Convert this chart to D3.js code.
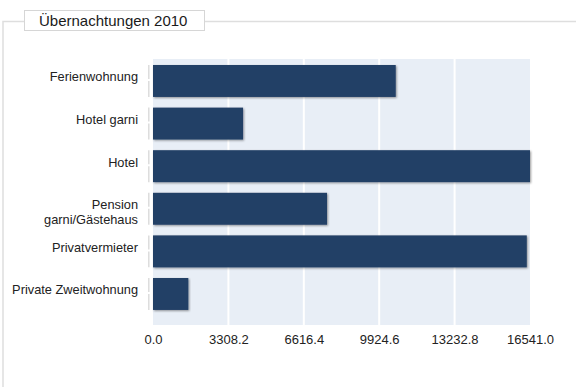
<!DOCTYPE html>
<html>
<head>
<meta charset="utf-8">
<script src="https://cdn.jsdelivr.net/npm/d3@7"></script>
<style>
  html, body { margin: 0; padding: 0; background: #fff; }
  svg { display: block; font-family: "Liberation Sans", Arial, sans-serif; }
</style>
</head>
<body>
<svg id="chart" width="576" height="387"></svg>
<script>
// Overnight stays 2010 by accommodation type
const title = "Übernachtungen 2010";
const categories = [
  ["Ferienwohnung"],
  ["Hotel garni"],
  ["Hotel"],
  ["Pension", "garni/Gästehaus"],
  ["Privatvermieter"],
  ["Private Zweitwohnung"]
];
const values = [10650, 3950, 16541, 7635, 16400, 1550];
const tickValues = [0, 3308.2, 6616.4, 9924.6, 13232.8, 16541.0];

const svg = d3.select("#chart");

// Plot geometry
const plot = { left: 153, right: 530, top: 59, bottom: 325 };

const x = d3.scaleLinear().domain([0, 16541]).range([plot.left, plot.right]);
const y = d3.scaleBand()
  .domain(categories.map((c, i) => i))
  .range([plot.top + 6, plot.top + 6 + 42.6 * 5.75])
  .paddingInner(0.25)
  .paddingOuter(0);

// Shadow for the bars
const defs = svg.append("defs");
const f = defs.append("filter").attr("id", "shadow")
  .attr("x", "-5%").attr("y", "-20%").attr("width", "110%").attr("height", "150%");
f.append("feDropShadow").attr("dx", 1).attr("dy", 1).attr("stdDeviation", 1)
  .attr("flood-color", "#000").attr("flood-opacity", 0.4);

// Frame with legend tab
svg.append("path")
  .attr("d", "M3,387 V21.5 H576")
  .attr("fill", "none").attr("stroke", "#dedede").attr("stroke-width", 1.5);
svg.append("rect")
  .attr("x", 24.5).attr("y", 10.5).attr("width", 180).attr("height", 20)
  .attr("fill", "#fff").attr("stroke", "#d6d6d6").attr("stroke-width", 1);
svg.append("text")
  .attr("x", 39).attr("y", 25.5)
  .attr("font-size", 15).attr("fill", "#1a1a1a")
  .text(title);

// Plot background
svg.append("rect")
  .attr("x", plot.left).attr("y", plot.top)
  .attr("width", plot.right - plot.left).attr("height", plot.bottom - plot.top)
  .attr("fill", "#e8eef6");

// Vertical grid lines
svg.append("g").selectAll("line")
  .data(tickValues.slice(1, -1))
  .join("line")
  .attr("x1", d => x(d)).attr("x2", d => x(d))
  .attr("y1", plot.top).attr("y2", plot.bottom)
  .attr("stroke", "#fff").attr("stroke-width", 2);

// Category axis line segments beside each bar
const axisX = 148.8;
const segs = svg.append("g");
categories.forEach((c, i) => {
  const y0 = y(i), y1 = y(i) + y.bandwidth(), m = y0 + y.bandwidth() / 2 - 1;
  segs.append("line").attr("x1", axisX).attr("x2", axisX).attr("y1", y0).attr("y2", m - 1)
    .attr("stroke", "#dcdcdc").attr("stroke-width", 1.5);
  segs.append("line").attr("x1", axisX).attr("x2", axisX).attr("y1", m + 1).attr("y2", y1)
    .attr("stroke", "#dcdcdc").attr("stroke-width", 1.5);
});

// Bars
svg.append("g").selectAll("rect")
  .data(values)
  .join("rect")
  .attr("x", x(0))
  .attr("y", (d, i) => y(i))
  .attr("width", d => x(d) - x(0))
  .attr("height", y.bandwidth())
  .attr("fill", "#233f66")
  .attr("filter", "url(#shadow)");

// Category labels
const labels = svg.append("g")
  .attr("font-size", 12.8).attr("fill", "#222").attr("text-anchor", "end");
categories.forEach((lines, i) => {
  const cy = y(i) + y.bandwidth() / 2;
  const t = labels.append("text").attr("x", 138);
  if (lines.length === 1) {
    t.attr("y", cy).attr("dy", "0.35em").attr("transform", "translate(0,-4)").text(lines[0]);
  } else {
    lines.forEach((s, k) => {
      t.append("tspan").attr("x", 138).attr("y", cy - 4 + k * 14.3).attr("dy", "0.35em").text(s);
    });
  }
});

// Value axis
const xAxis = d3.axisBottom(x)
  .tickValues(tickValues)
  .tickFormat(d3.format(".1f"))
  .tickSize(0)
  .tickPadding(0);
const gx = svg.append("g")
  .attr("transform", `translate(0,${plot.bottom + 10})`)
  .call(xAxis);
gx.select(".domain").remove();
gx.selectAll("text")
  .attr("font-size", 13).attr("fill", "#222")
  .attr("font-family", "'Liberation Sans', Arial, sans-serif")
  .attr("dy", "0.71em");
</script>
</body>
</html>
